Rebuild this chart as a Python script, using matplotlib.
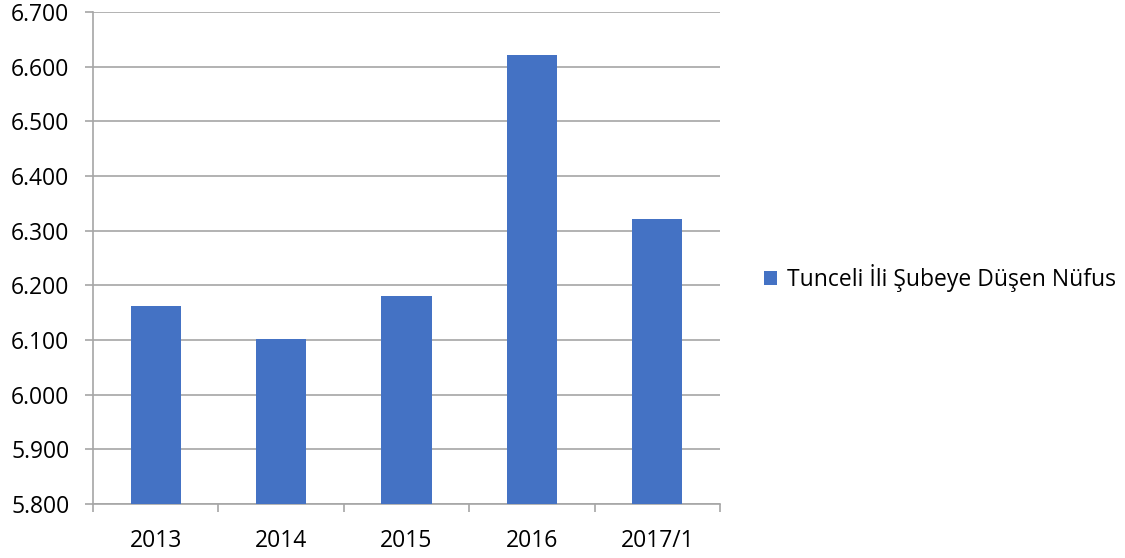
import matplotlib.pyplot as plt
from matplotlib.ticker import FuncFormatter, FixedLocator

# Chart data
years = ["2013", "2014", "2015", "2016", "2017/1"]
population = [6162, 6101, 6180, 6621, 6321]
series_name = "Tunceli İli Şubeye Düşen Nüfus"

bar_color = "#4472C4"
grid_color = "#A6A6A6"

plt.rcParams["font.family"] = ["Open Sans", "DejaVu Sans"]

fig = plt.figure(figsize=(11.25, 5.58), dpi=100)
ax = fig.add_axes([0.0827, 0.0968, 0.5573, 0.8817])

x = range(len(years))
ax.bar(x, population, width=0.4, color=bar_color, label=series_name, zorder=3)

ax.set_xlim(-0.5, len(years) - 0.5)
ax.set_ylim(5800, 6700)
ax.set_yticks(range(5800, 6701, 100))
ax.yaxis.set_major_formatter(FuncFormatter(lambda v, p: f"{v / 1000:.3f}"))
ax.grid(axis="y", color=grid_color, linewidth=1.2, zorder=0)

ax.set_xticks(list(x))
ax.set_xticklabels(years)
ax.xaxis.set_minor_locator(FixedLocator([i - 0.5 for i in range(len(years) + 1)]))
ax.tick_params(axis="x", which="major", length=0, labelsize=16.5, pad=18)
ax.tick_params(axis="x", which="minor", length=6, color=grid_color, width=1.2)
ax.tick_params(axis="y", length=6, color=grid_color, width=1.2, labelsize=16.5, pad=11)

for side in ["top", "right"]:
    ax.spines[side].set_visible(False)
for side in ["left", "bottom"]:
    ax.spines[side].set_color(grid_color)
    ax.spines[side].set_linewidth(1.2)

ax.legend(loc="center left", bbox_to_anchor=(1.055, 0.459), frameon=False, fontsize=16.5,
          handlelength=0.6, handleheight=0.6, handletextpad=0.4, borderaxespad=0)

plt.savefig("out.png", dpi=100)
